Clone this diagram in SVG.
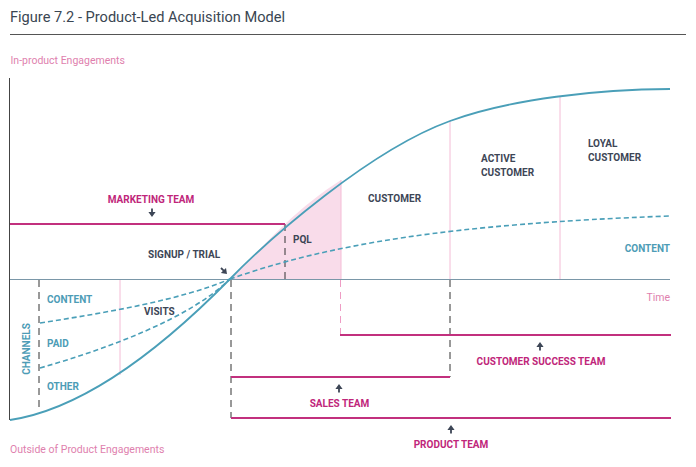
<svg xmlns="http://www.w3.org/2000/svg" width="696" height="467" viewBox="0 0 696 467">
<defs>
<style>
.title{font-family:Roboto,"Liberation Sans",sans-serif;font-size:14.6px;fill:#3a4652}
.axl{font-family:Roboto,"Liberation Sans",sans-serif;font-size:10.5px;fill:#e07fae}
.lb{font-family:Roboto,"Liberation Sans",sans-serif;font-size:10px;font-weight:bold;fill:#3d4656}
.tm{font-family:Roboto,"Liberation Sans",sans-serif;font-size:10px;font-weight:bold;fill:#c0267a}
.ch{font-family:Roboto,"Liberation Sans",sans-serif;font-size:10px;font-weight:bold;fill:#4d9cb6}
.curve{fill:none;stroke:#4a9fb8;stroke-width:1.8}
.dcurve{fill:none;stroke:#4a9fb8;stroke-width:1.6;stroke-dasharray:5 3}
.team{fill:none;stroke:#c2307e;stroke-width:1.8}
.bdash{fill:none;stroke:#333;stroke-width:1;stroke-dasharray:7 5}
.pdash{fill:none;stroke:#ee9cc4;stroke-width:1;stroke-dasharray:7 5}
.pthin{fill:none;stroke:#f4bcd6;stroke-width:1}
.arr{fill:#3d4656}
</style>
<path id="arrUp" d="M0,0 L3.6,5 L0.9,5 L0.9,8.5 L-0.9,8.5 L-0.9,5 L-3.6,5 Z"/>
</defs>

<g id="header">
<text class="title" x="10" y="22">Figure 7.2 - Product-Led Acquisition Model</text>
<line x1="10" y1="34.5" x2="686" y2="34.5" stroke="#555" stroke-width="1"/>
</g>

<g id="axes">
<text class="axl" x="10.5" y="64">In-product Engagements</text>
<line x1="9.5" y1="78" x2="9.5" y2="420" stroke="#444" stroke-width="1"/>
<line x1="10" y1="279.5" x2="670" y2="279.5" stroke="#7a97a8" stroke-width="1.2"/>
<text class="axl" x="670" y="301" text-anchor="end">Time</text>
<text class="axl" x="10" y="453">Outside of Product Engagements</text>
</g>

<g id="pql-area">
<path d="M230,279 C245,265 265,243 285,224 C303,207 322,192 341,180 L341,279 Z" fill="#f9dcea"/>
<line class="pthin" x1="341" y1="180" x2="341" y2="279"/>
</g>

<g id="connectors">
<line class="pthin" x1="120" y1="280" x2="120" y2="375" stroke="#e3d3e4"/>
<line class="pthin" x1="450" y1="121" x2="450" y2="279"/>
<line class="pthin" x1="560" y1="96" x2="560" y2="279"/>
<line class="bdash" x1="39" y1="280" x2="39" y2="412"/>
<line class="bdash" x1="285" y1="224" x2="285" y2="279"/>
<line class="bdash" x1="231" y1="280" x2="231" y2="418"/>
<line class="bdash" x1="450" y1="280" x2="450" y2="377"/>
<line class="pdash" x1="340.5" y1="280" x2="340.5" y2="335"/>
<line class="team" x1="10" y1="224" x2="285" y2="224"/>
<line class="team" x1="340" y1="335" x2="671" y2="335"/>
<line class="team" x1="231" y1="377" x2="450" y2="377"/>
<line class="team" x1="231" y1="418" x2="671" y2="418"/>
<path class="dcurve" d="M40,323 C110,312 180,300 230,279"/>
<path class="dcurve" d="M40,368 C110,348 190,318 230,279"/>
<path class="dcurve" d="M230,279 C330,244 450,224 670,216"/>
<path class="curve" d="M10,420 C90,408 170,340 230,279 C270,238 370,150 450,121 C510,99 600,89 670,89"/>
</g>

<g id="arrows">
<use href="#arrUp" class="arr" transform="translate(152,217) rotate(180)"/>
<use href="#arrUp" class="arr" transform="translate(227,274) rotate(135)"/>
<use href="#arrUp" class="arr" transform="translate(339,384)"/>
<use href="#arrUp" class="arr" transform="translate(540,342)"/>
<use href="#arrUp" class="arr" transform="translate(451,425)"/>
</g>

<g id="channels">
<text class="ch" transform="translate(30,349) rotate(-90)" text-anchor="middle">CHANNELS</text>
<text class="ch" x="47" y="303">CONTENT</text>
<text class="ch" x="47" y="347">PAID</text>
<text class="ch" x="47" y="390">OTHER</text>
<text class="lb" x="144" y="315">VISITS</text>
</g>

<g id="stages">
<text class="lb" x="148" y="258">SIGNUP / TRIAL</text>
<text class="lb" x="293" y="243">PQL</text>
<text class="lb" x="368" y="202">CUSTOMER</text>
<text class="lb" x="481" y="162">ACTIVE</text>
<text class="lb" x="481" y="176">CUSTOMER</text>
<text class="lb" x="588" y="147">LOYAL</text>
<text class="lb" x="588" y="161">CUSTOMER</text>
<text class="ch" x="670" y="251.5" text-anchor="end">CONTENT</text>
</g>

<g id="teams">
<text class="tm" x="151" y="203" text-anchor="middle">MARKETING TEAM</text>
<text class="tm" x="541" y="365" text-anchor="middle">CUSTOMER SUCCESS TEAM</text>
<text class="tm" x="339.5" y="407" text-anchor="middle">SALES TEAM</text>
<text class="tm" x="451" y="448" text-anchor="middle">PRODUCT TEAM</text>
</g>
</svg>
